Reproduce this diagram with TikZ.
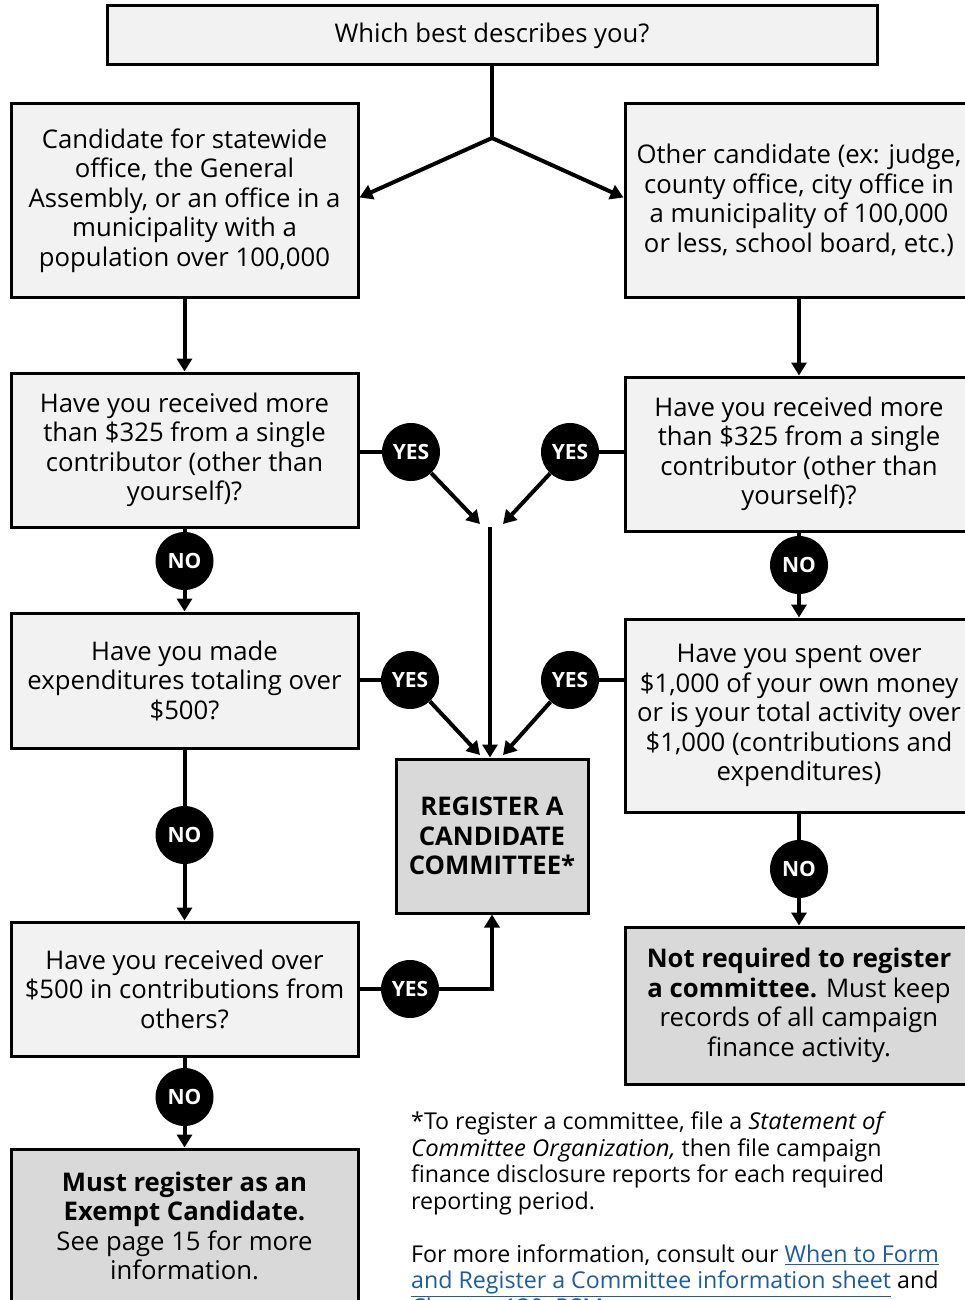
\documentclass[tikz,border=0pt]{standalone}
\usepackage{fontspec}
\setmainfont{Open Sans}
\usetikzlibrary{arrows.meta,calc}
\definecolor{boxlight}{HTML}{F2F2F2}
\definecolor{boxdark}{HTML}{D9D9D9}
\definecolor{linkblue}{HTML}{1C5CA4}
\newcommand{\lnk}[1]{\textcolor{linkblue}{\underline{#1}}}
\newcommand{\itx}[1]{{\itshape\addfontfeature{FakeStretch=1.03}#1}}
\begin{document}
\begin{tikzpicture}[x=1pt,y=-1pt,
  box/.style={draw=black, line width=3pt, fill=boxlight, align=center, inner sep=0pt, font=\fontsize{25.7}{29.5}\selectfont},
  darkbox/.style={box, fill=boxdark},
  ans/.style={circle, fill=black, minimum size=58pt, inner sep=0pt, text=white, font=\fontsize{21}{24}\selectfont\bfseries},
  conn/.style={line width=4pt},
  arr/.style={conn, -{Triangle[width=15pt,length=13pt]}},
]
\useasboundingbox (0,0) rectangle (965,1300);
\fill[white] (0,0) rectangle (965,1300);

% boxes
\node[box, minimum width=770pt, minimum height=59pt] (T) at (492,35.5) {Which best describes you?};
\node[box, minimum width=347pt, minimum height=193pt] (L1) at (184.5,200.5) {Candidate for statewide\\office, the General\\Assembly, or an office in a\\municipality with a\\population over 100,000};
\node[box, minimum width=348pt, minimum height=193pt] (R1) at (799,200.5) {Other candidate (ex: judge,\\county office, city office in\\a municipality of 100,000\\or less, school board, etc.)};
\node[box, minimum width=347pt, minimum height=154pt] (L2) at (184.5,450) {Have you received more\\than \$325 from a single\\contributor (other than\\yourself)?};
\node[box, minimum width=348pt, minimum height=154pt] (R2) at (799,454) {Have you received more\\than \$325 from a single\\contributor (other than\\yourself)?};
\node[box, minimum width=347pt, minimum height=135pt] (L3) at (184.5,680.5) {Have you made\\expenditures totaling over\\\$500?};
\node[box, minimum width=348pt, minimum height=193pt] (R3) at (799,715.5) {Have you spent over\\\$1,000 of your own money\\or is your total activity over\\\$1,000 (contributions and\\expenditures)};
\node[darkbox, minimum width=192pt, minimum height=154pt, font=\fontsize{25.7}{29.5}\selectfont\bfseries] (Reg) at (492,836) {REGISTER A\\CANDIDATE\\COMMITTEE*};
\node[box, minimum width=347pt, minimum height=134pt] (L4) at (184.5,989) {Have you received over\\\$500 in contributions from\\others?};
\node[darkbox, minimum width=348pt, minimum height=157pt] (R4) at (799,1005.5) {\textbf{Not required to register}\\\textbf{a committee.} Must keep\\records of all campaign\\finance activity.};
\node[darkbox, minimum width=347pt, minimum height=154pt] (L5) at (184.5,1226) {\textbf{Must register as an}\\\textbf{Exempt Candidate.}\\See page 15 for more\\information.};

% answer circles
\node[ans] (YA) at (411,452) {YES};
\node[ans] (YB) at (570,452) {YES};
\node[ans] (NA) at (184.5,561) {NO};
\node[ans] (NB) at (799,565) {NO};
\node[ans] (YC) at (410,680) {YES};
\node[ans] (YD) at (570,680) {YES};
\node[ans] (NC) at (184.5,835) {NO};
\node[ans] (ND) at (799,869) {NO};
\node[ans] (YE) at (410,989) {YES};
\node[ans] (NE) at (184.5,1097) {NO};

% junction points
\coordinate (J) at (492,138);
\coordinate (DA) at (480,524);
\coordinate (DB) at (503,524);
\coordinate (DC) at (490,527);
\coordinate (DD) at (480,755);
\coordinate (DE) at (503,755);

% connectors
\draw[conn] (T.south) -- (J);
\draw[arr] (J) -- ([yshift=3pt]L1.east);
\draw[arr] (J) -- ([yshift=3pt]R1.west);
\draw[arr] (L1.south) -- (L2.north);
\draw[arr] (R1.south) -- (R2.north);

\draw[conn] (L2.east |- YA) -- (YA);
\draw[conn] (R2.west |- YB) -- (YB);
\draw[arr] (YA) -- (DA);
\draw[arr] (YB) -- (DB);
\draw[arr] (DC) -- (DC |- Reg.north);

\draw[conn] (L2.south) -- (NA);
\draw[arr] (NA) -- (L3.north);
\draw[conn] (R2.south) -- (NB);
\draw[arr] (NB) -- (R3.north);

\draw[conn] (L3.east |- YC) -- (YC);
\draw[conn] (R3.west |- YD) -- (YD);
\draw[arr] (YC) -- (DD);
\draw[arr] (YD) -- (DE);

\draw[conn] (L3.south) -- (NC);
\draw[arr] (NC) -- (L4.north);
\draw[conn] (R3.south) -- (ND);
\draw[arr] (ND) -- (R4.north);

\draw[conn] (L4.east |- YE) -- (YE);
\draw[arr] (YE) -| (Reg.south);

\draw[conn] (L4.south) -- (NE);
\draw[arr] (NE) -- (L5.north);

% footnote
\node[anchor=north west, align=left, inner sep=0pt, font=\fontsize{23.2}{26.5}\selectfont] (note) at (411,1112)
{*To register a committee, file a \itx{Statement of}\\
\itx{Committee Organization,} then file campaign\\
finance disclosure reports for each required\\
reporting period.\\[26.5pt]
For more information, consult our \lnk{When to Form}\\
\lnk{and Register a Committee information sheet} and\\
\lnk{Chapter 130, RSMo.}};
\end{tikzpicture}
\end{document}
